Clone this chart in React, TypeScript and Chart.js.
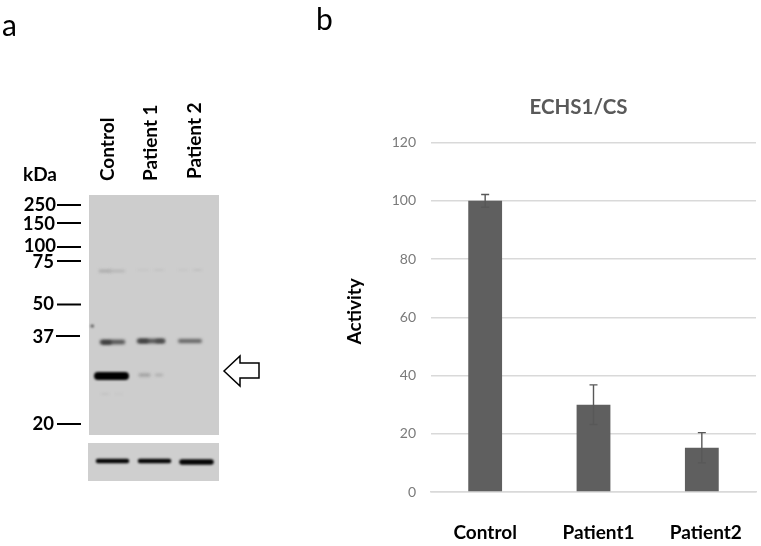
import React, { useEffect, useRef } from "react";
import { Chart, registerables } from "chart.js";

Chart.register(...registerables);

const categories = ["Control", "Patient1", "Patient2"];
const activity = [100, 30, 15.2];
const errors = [2.2, 6.8, 5.2];
const yMax = 120;
const yStep = 20;
const laneLabels = ["Control", "Patient 1", "Patient 2"];
const kdaLabels = ["250", "150", "100", "75", "50", "37", "20"];

const FONT = "Lato, 'Open Sans', sans-serif";

// x-label nudges of the reference, which are not quite centred on the bars
const xLabelShift = [0, 5, 4];

// Panel a: marker rows [text right edge, text y, tick left, tick right, tick y]
const markerRows = [
  [56, 205, 57, 81, 205],
  [55, 224, 57, 81, 223],
  [56, 246, 57, 81, 247],
  [54, 262, 57, 81, 261],
  [54, 304, 57, 81, 304.5],
  [54, 337, 56, 80, 336],
  [54, 424, 57, 81, 424],
];
// bands: x0, x1, y, thickness, gray level, blur
const bands = [
  [100, 110, 271, 2.5, 165, 1.4],
  [110, 124, 271, 2, 175, 1.4],
  [138, 148, 270, 1.5, 195, 1.2],
  [155, 163, 270, 1.5, 192, 1.2],
  [179, 187, 270, 1.5, 195, 1.2],
  [194, 201, 270, 1.5, 188, 1.2],
  [102, 123, 342, 4.5, 85, 1.6],
  [103, 110, 342.5, 3.5, 55, 1.4],
  [139, 163, 341, 4.5, 85, 1.6],
  [140, 147, 341, 3.5, 60, 1.4],
  [157, 163, 341, 3, 70, 1.4],
  [180, 200, 341, 4, 100, 1.6],
  [98, 125, 376, 8, 0, 1.3],
  [140, 149, 375, 3, 155, 1.6],
  [156, 162, 375, 2, 165, 1.4],
  [102, 108, 394, 1.5, 192, 1.2],
  [116, 122, 394, 1, 195, 1.2],
  [92, 92.5, 326, 3, 90, 1],
  [98, 127, 461, 4.5, 5, 0.9],
  [140, 169, 461, 4.5, 5, 0.9],
  [182, 211, 462, 5.5, 5, 0.9],
];

const blotPanel = {
  id: "blotPanel",
  afterLayout(chart: any) {
    // the title sits a little left of the plot's centre
    if (chart.titleBlock && !chart.$shifted) {
      chart.$shifted = true;
      chart.titleBlock.left -= 15;
      chart.titleBlock.right -= 15;
      const y = chart.scales.y;
      const drawTitle = y.drawTitle.bind(y);
      y.drawTitle = () => {
        chart.ctx.save();
        chart.ctx.translate(0, -6);
        drawTitle();
        chart.ctx.restore();
      };
      const x = chart.scales.x;
      const px = x.getPixelForTick.bind(x);
      x.getPixelForTick = (i: number) => px(i) + (xLabelShift[i] ?? 0);
    }
  },
  afterDraw(chart: any) {
    const ctx: CanvasRenderingContext2D = chart.ctx;
    ctx.save();
    // panel letters
    ctx.fillStyle = "#000";
    ctx.textBaseline = "alphabetic";
    ctx.textAlign = "left";
    ctx.font = `30px ${FONT}`;
    ctx.fillText("a", 2, 36);
    ctx.fillText("b", 316, 30);

    // membranes
    ctx.fillStyle = "#cdcdcd";
    ctx.fillRect(89, 195, 130, 240);
    ctx.fillStyle = "#cfcfcf";
    ctx.fillRect(88, 443, 131, 38);

    // bands
    ctx.lineCap = "round";
    for (const [x0, x1, y, t, g, b] of bands) {
      ctx.filter = `blur(${b}px)`;
      ctx.strokeStyle = `rgb(${g},${g},${g})`;
      ctx.lineWidth = t;
      ctx.beginPath();
      ctx.moveTo(x0, y);
      ctx.lineTo(x1, y);
      ctx.stroke();
    }
    ctx.filter = "none";

    // marker ticks and labels
    ctx.fillStyle = "#000";
    ctx.strokeStyle = "#000";
    ctx.lineWidth = 2;
    ctx.lineCap = "butt";
    ctx.font = `bold 18.5px ${FONT}`;
    ctx.textAlign = "right";
    ctx.textBaseline = "middle";
    markerRows.forEach((r, i) => {
      ctx.fillText(kdaLabels[i], r[0], r[1]);
      ctx.beginPath();
      ctx.moveTo(r[2], r[4]);
      ctx.lineTo(r[3], r[4]);
      ctx.stroke();
    });
    ctx.textAlign = "left";
    ctx.font = `bold 19px ${FONT}`;
    ctx.fillText("kDa", 23, 175);

    // lane labels
    ctx.font = `bold 19px ${FONT}`;
    const laneX = [108, 151, 195];
    const laneBottom = [181, 181, 179];
    laneLabels.forEach((t, i) => {
      ctx.save();
      ctx.translate(laneX[i], laneBottom[i]);
      ctx.rotate(-Math.PI / 2);
      ctx.fillText(t, 0, 0);
      ctx.restore();
    });

    // arrow
    ctx.fillStyle = "#fff";
    ctx.strokeStyle = "#000";
    ctx.lineWidth = 1.5;
    ctx.lineJoin = "miter";
    ctx.beginPath();
    ctx.moveTo(224, 371);
    ctx.lineTo(240, 356);
    ctx.lineTo(240, 363);
    ctx.lineTo(259, 363);
    ctx.lineTo(259, 378);
    ctx.lineTo(240, 378);
    ctx.lineTo(240, 386);
    ctx.closePath();
    ctx.fill();
    ctx.stroke();
    ctx.restore();
  },
};

const errorBars = {
  id: "errorBars",
  afterDatasetsDraw(chart: any) {
    const ctx: CanvasRenderingContext2D = chart.ctx;
    const meta = chart.getDatasetMeta(0);
    const y = chart.scales.y;
    ctx.save();
    ctx.strokeStyle = "#585858";
    ctx.lineWidth = 1.4;
    meta.data.forEach((bar: any, i: number) => {
      const hi = y.getPixelForValue(activity[i] + errors[i]);
      const lo = y.getPixelForValue(activity[i] - errors[i]);
      ctx.beginPath();
      ctx.moveTo(bar.x, hi);
      ctx.lineTo(bar.x, lo);
      ctx.moveTo(bar.x - 4, hi);
      ctx.lineTo(bar.x + 4, hi);
      ctx.moveTo(bar.x - 4, lo);
      ctx.lineTo(bar.x + 4, lo);
      ctx.stroke();
    });
    ctx.restore();
  },
};

export default function App() {
  const ref = useRef<HTMLCanvasElement>(null);
  useEffect(() => {
    const chart = new Chart(ref.current as HTMLCanvasElement, {
      type: "bar",
      data: {
        labels: categories,
        datasets: [
          {
            label: "ECHS1/CS",
            data: activity,
            backgroundColor: "#5f5f5f",
            categoryPercentage: 1,
            barPercentage: 0.315,
          },
        ],
      },
      options: {
        animation: false,
        responsive: false,
        devicePixelRatio: 1,
        layout: { padding: { left: 0, right: 5, top: 0, bottom: 0 } },
        plugins: {
          legend: { display: false },
          tooltip: { enabled: false },
          title: {
            display: true,
            text: "ECHS1/CS",
            fullSize: false,
            color: "#595959",
            font: { family: FONT, size: 20.5, weight: "bold" },
            padding: { top: 95, bottom: 23 },
          },
        },
        scales: {
          x: {
            afterFit: (s: any) => {
              s.height = 54;
            },
            grid: { display: false },
            border: { color: "#d9d9d9", width: 1.5 },
            ticks: {
              color: "#000",
              font: { family: FONT, size: 19, weight: "bold" },
              padding: 21,
              maxRotation: 0,
            },
          },
          y: {
            min: 0,
            max: yMax,
            afterFit: (s: any) => {
              s.width = 431;
            },
            grid: { color: "#d9d9d9", lineWidth: 1.5, drawTicks: false },
            border: { display: false },
            ticks: {
              stepSize: yStep,
              color: "#7a7a7a",
              font: { family: FONT, size: 14 },
              padding: 15,
            },
            title: {
              display: true,
              text: "Activity",
              color: "#000",
              font: { family: FONT, size: 19, weight: "bold" },
              padding: { top: 343, bottom: 0 },
            },
          },
        },
      },
      plugins: [blotPanel, errorBars],
    } as any);
    return () => chart.destroy();
  }, []);
  return (
    <canvas
      ref={ref}
      width={761}
      height={546}
      style={{ position: "absolute", left: 0, top: 0, width: 761, height: 546 }}
    />
  );
}
